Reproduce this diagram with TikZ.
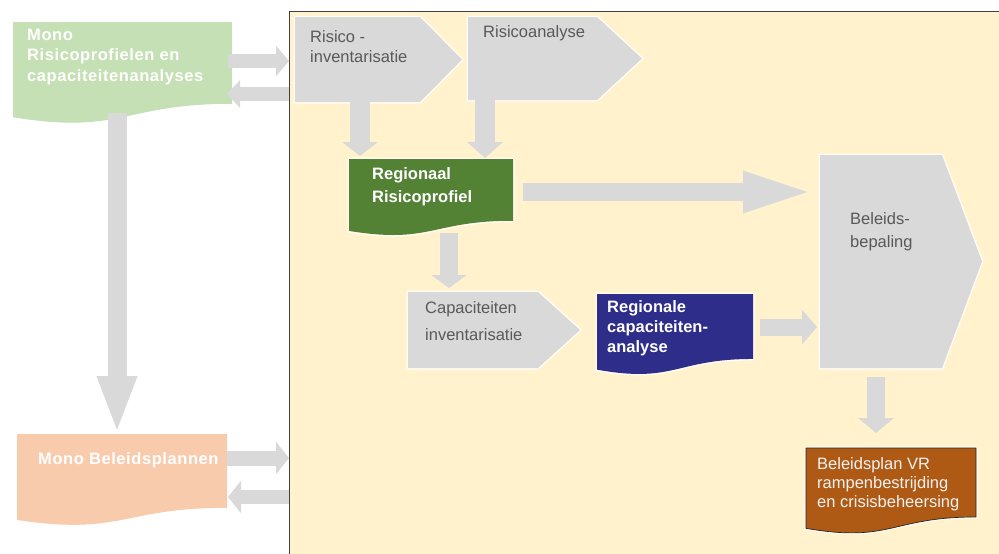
\documentclass[tikz,border=0pt]{standalone}
\usepackage{fontspec}
\setmainfont{Liberation Sans}
\newfontfamily\spacedfont[LetterSpace=3.5]{Liberation Sans}
\usepackage{tikz}
\usetikzlibrary{calc,positioning,arrows.meta}
\definecolor{panelyellow}{HTML}{FFF2CC}
\definecolor{shapegrey}{HTML}{D9D9D9}
\definecolor{greytext}{HTML}{595959}
\definecolor{monogreen}{HTML}{C5E0B4}
\definecolor{monoorange}{HTML}{F8CBAD}
\definecolor{riskgreen}{HTML}{548235}
\definecolor{capblue}{HTML}{2E2E8A}
\definecolor{planbrown}{HTML}{AE5A15}
\tikzset{
  boxframe/.style 2 args={inner sep=0pt, outer sep=0pt, minimum width=#1, minimum height=#2},
  glow/.style={preaction={draw=white, line width=3pt, opacity=0.8}},
  blockarrow/.style n args={3}{draw=shapegrey, line width=#1, -{Triangle[width=#2, length=#3]}},
  greytxt/.style={anchor=west, align=left, inner sep=0pt, text=greytext,
    font=\fontsize{16.5}{20}\selectfont},
  whitetxt/.style={anchor=west, align=left, inner sep=0pt, text=white,
    font=\fontsize{16.5}{20}\selectfont\bfseries},
}
% pentagon (home plate) filled behind a frame node
\newcommand{\pentafill}[3]{%
  \fill[#3, glow] (#1.north west) -- ([xshift=-#2]#1.north east) -- (#1.east)
    -- ([xshift=-#2]#1.south east) -- (#1.south west) -- cycle;}
% document shape with wavy bottom
\newcommand{\docfill}[2]{%
  \path[#2] (#1.north west) -- (#1.north east)
    -- ($(#1.north east)!0.802!(#1.south east)$)
    .. controls ($(#1.north)!0.802!(#1.south)$) and ($(#1.north)!1.107!(#1.south)$)
    .. ($(#1.north west)!0.934!(#1.south west)$) -- cycle;}

\begin{document}
\begin{tikzpicture}[x=1pt, y=-1pt]
  \useasboundingbox (0,0) rectangle (999,554);

  % regional panel
  \node[boxframe={710}{543}, fill=panelyellow] (panel) at (644,282.5) {};
  \draw[black!75, line width=0.8pt] (panel.south west) -- (panel.north west) -- (panel.north east);

  % frames
  \node[boxframe={219}{102}] (mono) at (122.5,73) {};
  \node[boxframe={210}{92}] (plans) at (122,480) {};
  \node[boxframe={167}{85}] (inv) at (378.5,59.5) {};
  \node[boxframe={174}{83}] (ana) at (555,58.5) {};
  \node[boxframe={164}{77}] (reg) at (431,197.5) {};
  \node[boxframe={172}{76}] (cap) at (494,330) {};
  \node[boxframe={156}{81}] (rca) at (675,334.5) {};
  \node[boxframe={162}{213}] (bep) at (901,261.5) {};
  \node[boxframe={170}{86}] (plan) at (891,491) {};

  \docfill{mono}{fill=monogreen}
  \docfill{plans}{fill=monoorange}
  \pentafill{inv}{42}{shapegrey}
  \pentafill{ana}{45}{shapegrey}
  \docfill{reg}{fill=riskgreen, glow}
  \pentafill{cap}{42}{shapegrey}
  \docfill{rca}{fill=capblue, glow}
  \pentafill{bep}{40}{shapegrey}
  \docfill{plan}{fill=planbrown, draw=black!85, line width=0.7pt, glow}

  % arrows
  \draw[blockarrow={14pt}{30pt}{13pt}] ([xshift=-4,yshift=12]mono.east) -- ([yshift=12]mono.east -| panel.west);
  \draw[blockarrow={14pt}{27pt}{13pt}] ([yshift=-21]mono.east -| panel.west) -- ([xshift=-5,yshift=-21]mono.east);
  \draw[blockarrow={19pt}{36pt}{58pt}] ([xshift=-5.5,yshift=11]mono.south) -- ([xshift=-5.5]mono.south |- plans.north);
  \draw[blockarrow={15pt}{32pt}{13pt}] ([yshift=22]plans.east) -- ([yshift=22]plans.east -| panel.west);
  \draw[blockarrow={14pt}{32pt}{13pt}] ([yshift=-17]plans.east -| panel.west) -- ([xshift=1,yshift=-17]plans.east);
  \draw[blockarrow={20pt}{35pt}{14pt}, shorten >=3pt] ([xshift=65]inv.south west) -- ([xshift=65]inv.south west |- reg.north);
  \draw[blockarrow={20pt}{35pt}{16pt}, shorten >=1pt] ([xshift=17]ana.south west) -- ([xshift=17]ana.south west |- reg.north);
  \draw[blockarrow={18pt}{36pt}{74pt}, shorten >=3pt] ([xshift=10,yshift=5.5]reg.east) -- ([yshift=5.5]reg.east -| bep.west);
  \draw[blockarrow={18pt}{35pt}{13pt}, shorten >=4pt] ([xshift=18,yshift=3]reg.south) -- ([xshift=18]reg.south |- cap.north);
  \draw[blockarrow={17pt}{34pt}{15pt}, shorten >=3pt] ([xshift=7,yshift=7.5]rca.east) -- ([yshift=7.5]rca.east -| bep.west);
  \draw[blockarrow={18pt}{35pt}{15pt}, shorten >=15pt] ([xshift=-25,yshift=-9]bep.south) -- ([xshift=-25]bep.south |- plan.north);

  % labels
  \node[whitetxt, font=\fontsize{16.5}{20.5}\spacedfont\bfseries] (monotxt) at (27,57) {Mono\\Risicoprofielen en\\capaciteitenanalyses};
  \node[whitetxt, font=\fontsize{16.5}{20}\spacedfont\bfseries] (planstxt) at (38,460) {Mono Beleidsplannen};
  \node[greytxt] (invtxt) at (310,47) {Risico -\\inventarisatie};
  \node[greytxt] (anatxt) at (483,33) {Risicoanalyse};
  \node[whitetxt, font=\fontsize{16.5}{23}\selectfont\bfseries] (regtxt) at (372,186.5) {Regionaal\\Risicoprofiel};
  \node[greytxt, font=\fontsize{16.5}{27}\selectfont] (captxt) at (425,321.5) {Capaciteiten\\inventarisatie};
  \node[whitetxt] (rcatxt) at (607,328) {Regionale\\capaciteiten-\\analyse};
  \node[greytxt, font=\fontsize{16.5}{23}\selectfont] (beptxt) at (850,231.5) {Beleids-\\bepaling};
  \node[greytxt, text=white!95!black, font=\fontsize{16.5}{19}\selectfont] (plantxt) at (817,484) {Beleidsplan VR\\rampenbestrijding\\en crisisbeheersing};
\end{tikzpicture}
\end{document}
